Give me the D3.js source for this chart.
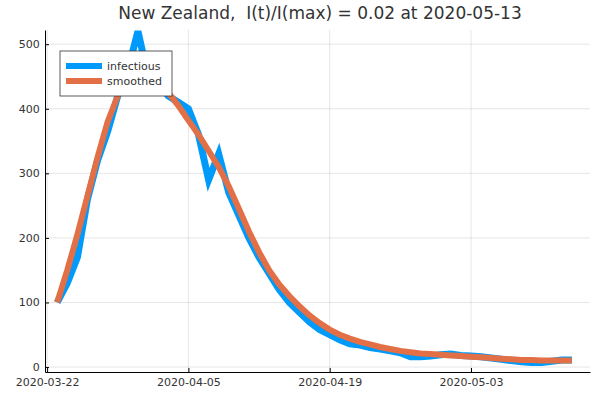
<!DOCTYPE html>
<html><head><meta charset="utf-8">
<script src="https://cdn.jsdelivr.net/npm/d3@7"></script>
<style>body{margin:0;background:#fff}text{font-family:"DejaVu Sans",sans-serif}</style>
</head><body>
<svg width="600" height="400"></svg>
<script>
let startDate = '2020-03-23'
let infectious = [100,130,170,260,320,365,420,460,520,450,440,420,410,400,360,290,330,270,235,200,170,145,120,100,85,70,58,50,42,36,34,30,28,25,22,16,16,17,19,20,18,17,16,14,12,10,8,7,7,9,11,11]
let smoothed = [100,150,205,265,325,380,420,442,450,448,440,425,405,382,360,335,310,280,245,210,178,150,128,110,94,80,68,58,50,44,39,35,31,28,25,23,21,20,19,18,17,16,15,14,13,12,11,11,10,10,10,10]
let xTicks = ['2020-03-22','2020-04-05','2020-04-19','2020-05-03']
let yTicks = [0,100,200,300,400,500]

let parse = d3.utcParse('%Y-%m-%d')
let t0 = parse(startDate)
let dates = infectious.map((d, i) => d3.utcDay.offset(t0, i))

let svg = d3.select('svg')
let plot = {left: 45, right: 590, top: 30, bottom: 372}

let scale = {
    x: d3.scaleUtc().domain([d3.utcHour.offset(parse('2020-03-22'), -5), d3.utcHour.offset(parse('2020-05-14'), 19)]).range([plot.left, plot.right]),
    y: d3.scaleLinear().domain([-7.7, 522]).range([plot.bottom, plot.top])
}

// grid
svg.append('g').selectAll('line').data(xTicks).join('line')
    .attr('x1', d => scale.x(parse(d))).attr('x2', d => scale.x(parse(d)))
    .attr('y1', plot.top).attr('y2', plot.bottom)
    .attr('stroke', '#000').attr('stroke-opacity', 0.1)
svg.append('g').selectAll('line').data(yTicks).join('line')
    .attr('y1', d => scale.y(d)).attr('y2', d => scale.y(d))
    .attr('x1', plot.left).attr('x2', plot.right)
    .attr('stroke', '#000').attr('stroke-opacity', 0.1)

// axes
let xAxis = d3.axisBottom(scale.x).tickValues(xTicks.map(parse)).tickFormat(d3.utcFormat('%Y-%m-%d')).tickSize(-4).tickSizeOuter(0)
let yAxis = d3.axisLeft(scale.y).tickValues(yTicks).tickSize(-4).tickSizeOuter(0)
svg.append('g').attr('transform', `translate(0,${plot.bottom})`).call(xAxis)
    .call(g => g.selectAll('text').attr('dy', '1em').attr('font-size', 11).attr('fill', '#333'))
svg.append('g').attr('transform', `translate(${plot.left},0)`).call(yAxis)
    .call(g => g.selectAll('text').attr('dx', '-0.3em').attr('font-size', 11).attr('fill', '#333').attr('x', -2))

let line = d3.line().x((d, i) => scale.x(dates[i])).y(d => scale.y(d))
svg.append('path').datum(infectious).attr('d', line)
    .attr('fill', 'none').attr('stroke', '#009AFA').attr('stroke-width', 7)
svg.append('path').datum(smoothed).attr('d', line)
    .attr('fill', 'none').attr('stroke', '#E26F46').attr('stroke-width', 6)

// legend
let lg = svg.append('g').attr('transform', 'translate(60,51)')
lg.append('rect').attr('width', 112).attr('height', 45).attr('fill', '#fff').attr('stroke', '#333').attr('stroke-width', 0.8)
let items = [['infectious', '#009AFA'], ['smoothed', '#E26F46']]
items.forEach(([name, c], i) => {
    lg.append('line').attr('x1', 6).attr('x2', 42).attr('y1', 15 + i * 15).attr('y2', 15 + i * 15)
        .attr('stroke', c).attr('stroke-width', 6)
    lg.append('text').attr('x', 47).attr('y', 19 + i * 15).attr('font-size', 11).attr('fill', '#333').text(name)
})

svg.append('text').attr('x', 320).attr('y', 19).attr('text-anchor', 'middle')
    .attr('font-size', 17).attr('fill', '#333').attr('xml:space', 'preserve')
    .style('white-space', 'pre').text('New Zealand,  I(t)/I(max) = 0.02 at 2020-05-13')
</script>
</body></html>
